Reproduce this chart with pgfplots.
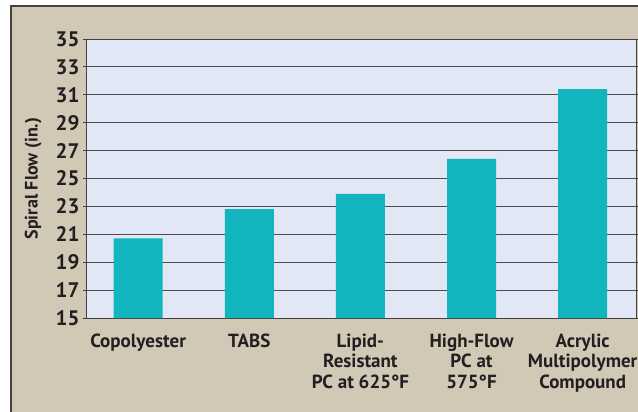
\documentclass[border=0pt]{standalone}
\usepackage{pgfplots}
\pgfplotsset{compat=1.18}
\usepackage{fontspec}
\setmainfont{PT Sans}
\definecolor{tanbg}{HTML}{D1C8B6}
\definecolor{plotbg}{HTML}{E1E7F5}
\definecolor{barteal}{HTML}{12B4BE}
\definecolor{ink}{HTML}{231F20}

\begin{document}
\begin{tikzpicture}
    \path[use as bounding box] (0pt,0pt) rectangle (638pt,-412pt);
    \fill[white] (0pt,0pt) rectangle (638pt,-412pt);
    \filldraw[fill=tanbg, draw=ink!85, line width=1.2pt] (11pt,-6pt) rectangle (650pt,-425pt);
    \begin{axis}[
            at={(87pt,-318pt)}, anchor=south west,
            scale only axis,
            width=549pt,
            height=279pt,
            ymin=15, ymax=35,
            ytick={15,17,...,35},
            xmin=-0.46, xmax=4.48,
            xtick={0,1,2,3,4},
            xticklabels={Copolyester, TABS, {Lipid-\\Resistant\\PC at 625°F}, {High-Flow\\PC at\\575°F}, {Acrylic\\Multipolymer\\Compound}},
            ybar,
            bar width=49pt,
            axis background/.style={fill=plotbg},
            ymajorgrids,
            grid style={ink!80, line width=0.9pt},
            axis line style={ink!85, line width=1pt},
            tick align=outside,
            major tick length=4pt,
            xtick style={draw=none},
            ytick style={ink!85, line width=0.9pt},
            /pgf/number format/assume math mode=true,
            yticklabel style={font=\fontsize{21}{21}\selectfont\bfseries, text=ink},
            xticklabel style={font=\fontsize{19}{20.5}\selectfont\bfseries, text=ink, align=center, anchor=north, yshift=-8pt},
            ylabel={Spiral Flow (in.)},
            ylabel style={font=\fontsize{18}{18}\selectfont\bfseries, text=ink, at={(axis description cs:-0.098,0.5)}, anchor=center},
        ]
        \addplot[fill=barteal, draw=none] coordinates {
                (0, 20.7)
                (1, 22.8)
                (2, 23.9)
                (3, 26.4)
                (4, 31.4)
            };
    \end{axis}
\end{tikzpicture}
\end{document}
